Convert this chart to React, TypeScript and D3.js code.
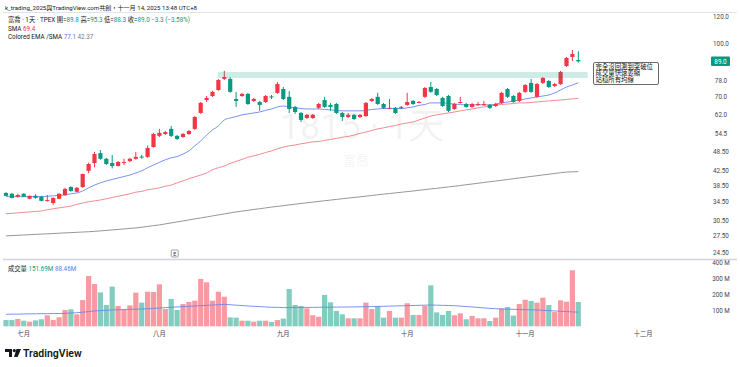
import React, { useEffect, useRef } from 'react';
import * as d3 from 'd3';

const W = 740;
const H = 367;

// daily candles, 富喬 (1815) TPEX, late June -> 14 Nov 2025
const opens = [36.7, 36.5, 35.8, 36.5, 35.3, 36.0, 35.8, 34.8, 34.3, 35.3, 36.2, 38.2, 37.0, 38.2, 42.6, 44.9, 48.0, 46.2, 44.9, 44.0,
  45.0, 45.5, 46.2, 46.9, 46.8, 50.0, 53.9, 54.6, 56.5, 53.9, 53.5, 54.6, 56.5, 62.9, 68.6, 70.5, 73.4, 79.1, 79.1, 69.1,
  70.5, 71.5, 68.2, 67.7, 67.7, 70.3, 72.0, 73.9, 70.1, 65.5, 62.9, 60.8, 60.8, 65.1, 68.6, 66.4, 66.8, 62.9, 61.2, 62.1,
  61.2, 61.6, 68.2, 70.1, 66.8, 64.9, 65.1, 65.1, 66.4, 68.2, 67.5, 70.1, 74.9, 73.9, 69.6, 70.5, 64.6, 67.3, 66.8, 65.5,
  66.4, 66.4, 66.4, 65.9, 67.3, 73.9, 70.5, 68.2, 72.5, 77.0, 70.1, 77.0, 78.0, 75.4, 76.4, 86.3, 91.7, 89.8];
const highs = [36.9, 36.7, 36.5, 36.6, 36.1, 36.4, 36.0, 36.2, 35.6, 36.6, 38.0, 38.4, 38.2, 41.8, 45.0, 48.4, 49.0, 46.5, 47.4, 45.5,
  46.2, 46.5, 48.4, 47.4, 50.5, 55.0, 56.5, 55.7, 57.6, 54.2, 55.0, 56.1, 61.6, 67.7, 70.5, 73.0, 79.1, 83.5, 80.1, 72.5,
  72.0, 72.0, 69.6, 68.2, 71.0, 71.0, 77.5, 74.9, 72.9, 65.9, 63.3, 62.5, 62.5, 67.3, 70.1, 67.3, 67.3, 63.3, 62.9, 62.5,
  62.5, 67.7, 69.6, 72.0, 67.3, 69.1, 65.5, 65.9, 72.0, 68.6, 68.2, 74.9, 77.5, 74.4, 70.1, 71.0, 67.3, 70.1, 67.3, 67.3,
  67.7, 68.2, 66.8, 67.3, 72.5, 74.4, 71.0, 72.5, 76.4, 79.1, 77.0, 80.1, 78.5, 77.0, 83.5, 91.7, 96.1, 95.3];
const lows = [35.9, 35.4, 35.6, 35.7, 35.2, 35.3, 34.7, 34.6, 33.9, 35.2, 36.0, 37.0, 36.9, 38.0, 41.9, 43.6, 45.9, 44.3, 43.3, 43.9,
  44.3, 45.2, 45.9, 46.2, 46.5, 49.8, 53.5, 54.2, 53.5, 52.4, 53.2, 54.2, 56.1, 62.5, 67.7, 70.1, 73.0, 78.5, 72.0, 65.5,
  70.1, 66.4, 67.7, 63.8, 67.3, 69.1, 71.5, 68.6, 62.9, 62.5, 59.2, 60.4, 60.4, 64.6, 65.1, 63.8, 62.5, 59.6, 60.8, 60.0,
  60.8, 61.2, 67.7, 66.4, 64.6, 64.6, 62.5, 64.6, 66.0, 66.4, 67.3, 69.6, 72.0, 70.5, 65.5, 63.3, 64.2, 67.0, 65.1, 65.1,
  66.0, 66.0, 64.6, 65.5, 66.8, 69.6, 67.3, 67.7, 72.0, 72.0, 69.6, 76.4, 74.4, 74.9, 76.0, 85.8, 89.2, 88.3];
const closes = [36.0, 35.5, 36.2, 35.8, 36.0, 35.5, 34.8, 35.0, 35.5, 36.5, 37.7, 37.2, 38.0, 41.7, 44.6, 47.7, 46.2, 44.6, 44.0, 45.2,
  45.2, 46.2, 46.8, 46.7, 49.7, 54.6, 55.0, 55.3, 53.9, 52.8, 54.6, 55.7, 61.2, 67.3, 69.6, 72.5, 78.5, 80.1, 72.5, 68.2,
  71.5, 66.8, 69.1, 66.4, 70.5, 70.0, 76.4, 69.1, 64.6, 63.3, 60.0, 62.1, 62.1, 66.8, 65.5, 65.5, 62.9, 61.2, 62.1, 60.4,
  62.1, 67.3, 69.1, 66.8, 65.1, 65.1, 62.9, 65.5, 67.7, 66.8, 67.7, 74.4, 72.5, 71.0, 65.9, 63.8, 66.8, 67.7, 65.5, 66.8,
  66.8, 66.8, 65.1, 66.8, 72.0, 70.1, 67.7, 72.0, 75.9, 72.5, 76.4, 79.6, 74.9, 76.4, 82.9, 91.1, 93.6, 89.0];

// volume in millions of shares
const volumes = [39, 39, 46, 35, 29, 37, 44, 69, 39, 56, 102, 106, 75, 164, 314, 264, 212, 133, 248, 127,
  102, 131, 210, 148, 216, 214, 262, 108, 171, 102, 139, 152, 160, 296, 275, 160, 216, 185, 56, 54,
  35, 35, 29, 35, 35, 27, 39, 48, 233, 133, 127, 112, 69, 60, 196, 150, 96, 75, 50, 50,
  50, 148, 108, 127, 54, 96, 54, 54, 144, 71, 71, 127, 256, 87, 71, 96, 69, 81, 44, 65,
  50, 50, 33, 54, 112, 121, 67, 139, 166, 158, 148, 179, 133, 89, 162, 154, 350, 151.69];
const volumeMa = [75, 76, 76, 77, 78, 78, 79, 79, 80, 80, 81, 83, 85, 88, 92, 96, 98, 100, 102, 103,
  105, 106, 107, 108, 110, 112, 114, 117, 119, 121, 123, 125, 127, 129, 131, 133, 135, 137, 135, 132,
  130, 127, 125, 123, 121, 119, 118, 117, 117, 118, 118, 118, 118, 119, 119, 119, 120, 120, 121, 121,
  122, 122, 123, 124, 125, 126, 127, 128, 129, 130, 131, 132, 133, 132, 131, 130, 129, 126, 124, 121,
  118, 115, 112, 110, 108, 107, 106, 105, 104, 103, 102, 100, 98, 96, 94, 92, 90, 88.46];

// moving averages
const emaBlue = [35.8, 35.8, 35.8, 35.8, 35.8, 35.8, 35.8, 35.9, 36.0, 36.1, 36.2, 36.5, 36.7, 37.2, 38.0, 38.7, 39.3, 39.8, 40.2, 40.6,
  41.0, 41.4, 42.0, 42.6, 43.5, 44.3, 45.1, 45.9, 46.5, 46.9, 47.7, 48.7, 50.4, 52.1, 54.2, 56.1, 57.6, 60.0, 60.8, 61.4,
  62.1, 62.5, 62.9, 63.3, 64.0, 64.6, 65.5, 65.9, 65.5, 65.1, 64.8, 64.6, 64.6, 64.6, 64.4, 64.2, 64.0, 63.8, 63.8, 63.8,
  63.8, 64.0, 64.4, 64.6, 64.8, 64.8, 64.8, 64.8, 65.1, 65.5, 66.2, 66.6, 67.3, 67.3, 67.3, 67.0, 66.8, 66.6, 66.4, 66.4,
  66.4, 66.4, 66.4, 66.8, 67.3, 67.7, 68.2, 68.6, 69.1, 69.6, 70.1, 70.5, 71.0, 72.0, 73.4, 74.9, 75.9, 77.1];
const smaRed = [31.9, 32.0, 32.1, 32.2, 32.3, 32.4, 32.5, 32.8, 33.0, 33.2, 33.4, 33.6, 34.0, 34.3, 34.6, 34.8, 35.0, 35.3, 35.6, 35.9,
  36.2, 36.5, 36.9, 37.1, 37.5, 37.7, 38.0, 38.4, 38.7, 39.3, 39.8, 40.4, 40.9, 41.4, 42.0, 42.9, 43.5, 44.0, 44.8, 45.4,
  46.0, 46.7, 47.1, 47.6, 48.2, 48.7, 49.4, 50.0, 50.4, 50.7, 51.1, 51.4, 51.8, 51.9, 52.3, 52.6, 53.0, 53.4, 53.7, 54.2,
  54.8, 55.3, 55.9, 56.5, 56.9, 57.4, 57.8, 58.4, 58.8, 59.2, 60.0, 60.8, 61.6, 62.1, 62.5, 62.9, 63.3, 63.8, 64.2, 64.6,
  65.1, 65.5, 65.9, 66.4, 66.6, 66.8, 67.0, 67.3, 67.3, 67.5, 67.7, 68.0, 68.2, 68.4, 68.6, 68.9, 69.1, 69.4];
const smaGray = [27.49, 27.55, 27.60, 27.66, 27.71, 27.77, 27.82, 27.88, 27.93, 27.99, 28.05, 28.10, 28.16, 28.22, 28.27, 28.35, 28.43, 28.52, 28.62, 28.71,
  28.81, 28.91, 29.00, 29.14, 29.30, 29.46, 29.60, 29.80, 30.00, 30.20, 30.40, 30.61, 30.82, 31.02, 31.23, 31.45, 31.66, 31.87, 32.09, 32.31,
  32.48, 32.66, 32.84, 33.01, 33.19, 33.37, 33.53, 33.69, 33.87, 34.03, 34.19, 34.35, 34.51, 34.67, 34.84, 34.98, 35.14, 35.31, 35.45, 35.62,
  35.76, 35.93, 36.10, 36.25, 36.42, 36.57, 36.72, 36.87, 37.04, 37.19, 37.37, 37.54, 37.72, 37.87, 38.05, 38.23, 38.41, 38.59, 38.80, 38.98,
  39.19, 39.38, 39.59, 39.77, 39.99, 40.18, 40.40, 40.61, 40.80, 41.02, 41.22, 41.44, 41.64, 41.86, 42.07, 42.24, 42.32, 42.37];

const priceTicks = [120, 100, 78, 70, 62, 54.5, 48.5, 42.5, 38.5, 34.5, 30.5, 27.5, 24.5];
const priceTickLabels = ['120.0', '100.0', '78.0', '70.0', '62.0', '54.5', '48.50', '42.50', '38.50', '34.50', '30.50', '27.50', '24.50'];
const volumeTicks = [400, 300, 200, 100];
const monthLabels = ['七月', '八月', '九月', '十月', '十一月', '十二月'];
const monthStartBar = [3, 26, 47, 68, 88, 108];

// breakout zone (bar index range, price range) and its note
const zoneBars = [35.9, 98.6];
const zonePrices = [79.6, 82.9];
const noteLines = ['完全沒回測到突破位', '成交量快速萎縮', '站穩所有均線'];
const earningsBar = 28.6;

const UP = '#F23645';
const DOWN = '#089981';

const App = () => {
  const svgRef = useRef<SVGSVGElement>(null);

  useEffect(() => {
    const svg = d3.select(svgRef.current);
    svg.selectAll('*').remove();
    const font = 'Roboto, "Noto Sans CJK TC", "Noto Sans", sans-serif';
    const n = closes.length;

    const x = d3.scaleLinear().domain([0, n - 1]).range([6, 578.3]);
    const y = d3.scaleLog().domain([120, 24.5]).range([17, 253]);
    const yv = d3.scaleLinear().domain([0, 400]).range([326.3, 262.3]);
    const isUp = (i: number) => closes[i] >= opens[i];

    svg.append('rect').attr('width', W).attr('height', H).attr('fill', '#fff');

    // header
    svg.append('text')
      .attr('x', 5).attr('y', 9.5)
      .attr('font-family', font).attr('font-size', 6.1).attr('fill', '#131722')
      .text('k_trading_2025與TradingView.com共創，十一月 14, 2025 13:48 UTC+8');
    svg.append('line')
      .attr('x1', 3).attr('x2', 737).attr('y1', 12.5).attr('y2', 12.5)
      .attr('stroke', '#e0e3eb').attr('stroke-width', 1);

    // watermark
    svg.append('text')
      .attr('x', 362).attr('y', 139)
      .attr('text-anchor', 'middle')
      .attr('font-family', font).attr('font-size', 36)
      .attr('fill', 'rgba(120,123,134,0.09)')
      .text('1815 · 1天');
    svg.append('text')
      .attr('x', 356).attr('y', 165)
      .attr('text-anchor', 'middle')
      .attr('font-family', font).attr('font-size', 13)
      .attr('fill', 'rgba(120,123,134,0.09)')
      .text('富喬');

    const main = svg.append('g');

    // moving averages
    const line = (vals: number[]) => d3.line<number>()
      .x((_, i) => x(i))
      .y(d => y(d))
      .curve(d3.curveMonotoneX)(vals);

    main.append('path').attr('d', line(smaGray)).attr('fill', 'none')
      .attr('stroke', '#8a8a8a').attr('stroke-width', 0.9);
    main.append('path').attr('d', line(smaRed)).attr('fill', 'none')
      .attr('stroke', '#f07c88').attr('stroke-width', 0.9);
    main.append('path').attr('d', line(emaBlue)).attr('fill', 'none')
      .attr('stroke', '#6a87ec').attr('stroke-width', 0.9);

    // candles
    const bodyW = 4.2;
    const candles = main.selectAll('.candle')
      .data(d3.range(n))
      .enter().append('g')
      .attr('class', 'candle');
    candles.append('line')
      .attr('x1', i => x(i)).attr('x2', i => x(i))
      .attr('y1', i => y(highs[i])).attr('y2', i => y(lows[i]))
      .attr('stroke', i => (isUp(i) ? UP : DOWN))
      .attr('stroke-width', 1);
    candles.append('rect')
      .attr('x', i => x(i) - bodyW / 2)
      .attr('width', bodyW)
      .attr('y', i => y(Math.max(opens[i], closes[i])))
      .attr('height', i => Math.max(1, y(Math.min(opens[i], closes[i])) - y(Math.max(opens[i], closes[i]))))
      .attr('fill', i => (isUp(i) ? UP : DOWN));

    // breakout zone
    main.append('rect')
      .attr('x', x(zoneBars[0]))
      .attr('width', x(zoneBars[1]) - x(zoneBars[0]))
      .attr('y', y(zonePrices[1]))
      .attr('height', y(zonePrices[0]) - y(zonePrices[1]))
      .attr('fill', 'rgba(8,153,129,0.2)');

    // note box
    const note = svg.append('g');
    note.append('rect')
      .attr('x', 593.5).attr('y', 62.5).attr('width', 65).attr('height', 22)
      .attr('rx', 1.5)
      .attr('fill', '#fff').attr('stroke', '#444').attr('stroke-width', 0.8);
    noteLines.forEach((t, k) => {
      note.append('text')
        .attr('x', 595.5).attr('y', 68.8 + k * 6.6)
        .attr('font-family', font).attr('font-size', 6.4).attr('fill', '#111')
        .text(t);
    });

    // legend
    const leg = svg.append('g').attr('font-family', font).attr('font-size', 6.3).attr('fill', '#131722');
    const l1 = leg.append('text').attr('x', 8).attr('y', 22);
    l1.append('tspan').text('富喬 · 1天 · TPEX ');
    [['開', '89.8'], ['高', '95.3'], ['低', '88.3'], ['收', '89.0']].forEach(([k, v]) => {
      l1.append('tspan').text(`${k}=`);
      l1.append('tspan').attr('fill', DOWN).text(`${v} `);
    });
    l1.append('tspan').attr('fill', DOWN).text('−3.3 (−3.58%)');
    const l2 = leg.append('text').attr('x', 8).attr('y', 30.5);
    l2.append('tspan').text('SMA ');
    l2.append('tspan').attr('fill', UP).text('69.4');
    const l3 = leg.append('text').attr('x', 8).attr('y', 39);
    l3.append('tspan').text('Colored EMA /SMA ');
    l3.append('tspan').attr('fill', '#5b7ce8').text('77.1 ');
    l3.append('tspan').attr('fill', '#787b86').text(' 42.37');

    // price axis
    const axis = svg.append('g').attr('font-family', font).attr('font-size', 6.3).attr('fill', '#434651');
    priceTicks.forEach((p, k) => {
      axis.append('text')
        .attr('x', 721).attr('y', y(p) + 2.2)
        .attr('text-anchor', 'middle')
        .text(priceTickLabels[k]);
    });
    const last = closes[n - 1];
    axis.append('rect')
      .attr('x', 711).attr('y', y(last) - 4.8).attr('width', 19).attr('height', 9.5)
      .attr('rx', 1).attr('fill', DOWN);
    axis.append('text')
      .attr('x', 720.5).attr('y', y(last) + 2.2)
      .attr('text-anchor', 'middle').attr('fill', '#fff')
      .text(last.toFixed(1));

    // earnings marker
    svg.append('rect')
      .attr('x', x(earningsBar) - 3.5).attr('y', 250).attr('width', 7).attr('height', 7)
      .attr('rx', 1)
      .attr('fill', '#fff').attr('stroke', '#787b86').attr('stroke-width', 0.7);
    svg.append('text')
      .attr('x', x(earningsBar)).attr('y', 255.6)
      .attr('text-anchor', 'middle')
      .attr('font-family', font).attr('font-size', 5.5).attr('fill', '#333')
      .text('E');

    // pane separator
    svg.append('line')
      .attr('x1', 3).attr('x2', 737).attr('y1', 259.5).attr('y2', 259.5)
      .attr('stroke', '#d1d4dc').attr('stroke-width', 1.6);

    // volume pane
    const vol = svg.append('g');
    vol.selectAll('rect')
      .data(d3.range(n))
      .enter().append('rect')
      .attr('x', i => x(i) - 2.6)
      .attr('width', 5.2)
      .attr('y', i => yv(volumes[i]))
      .attr('height', i => yv(0) - yv(volumes[i]))
      .attr('fill', i => (isUp(i) ? 'rgba(242,54,69,0.5)' : 'rgba(8,153,129,0.5)'));
    vol.append('path')
      .attr('d', d3.line<number>().x((_, i) => x(i)).y(d => yv(d)).curve(d3.curveMonotoneX)(volumeMa))
      .attr('fill', 'none').attr('stroke', '#6a87ec').attr('stroke-width', 0.9);

    const vleg = svg.append('text').attr('x', 8).attr('y', 270.5)
      .attr('font-family', font).attr('font-size', 6.3).attr('fill', '#131722');
    vleg.append('tspan').text('成交量 ');
    vleg.append('tspan').attr('fill', DOWN).text(`${volumes[n - 1].toFixed(2)}M `);
    vleg.append('tspan').attr('fill', '#5b7ce8').text(` ${volumeMa[n - 1].toFixed(2)}M`);

    volumeTicks.forEach(v => {
      axis.append('text')
        .attr('x', 721).attr('y', yv(v) + 2.2)
        .attr('text-anchor', 'middle')
        .text(`${v} M`);
    });

    // time axis
    monthLabels.forEach((m, k) => {
      axis.append('text')
        .attr('x', x(monthStartBar[k])).attr('y', 335.5)
        .attr('text-anchor', 'middle')
        .text(m);
    });

    // TradingView logo
    const logo = svg.append('g').attr('fill', '#131722');
    logo.append('path').attr('d', 'M5,349 H12 V357 H9 V352 H5 Z');
    logo.append('circle').attr('cx', 14.3).attr('cy', 350.6).attr('r', 1.6);
    logo.append('path').attr('d', 'M16.5,349 H21 L17.6,357 H14 Z');
    svg.append('text')
      .attr('x', 23).attr('y', 357)
      .attr('font-family', font).attr('font-size', 10.5).attr('font-weight', 600)
      .attr('fill', '#131722')
      .text('TradingView');
  }, []);

  return (
    <svg ref={svgRef} width={W} height={H}
      style={{ position: 'absolute', left: 0, top: 0, display: 'block' }} />
  );
};

export default App;
